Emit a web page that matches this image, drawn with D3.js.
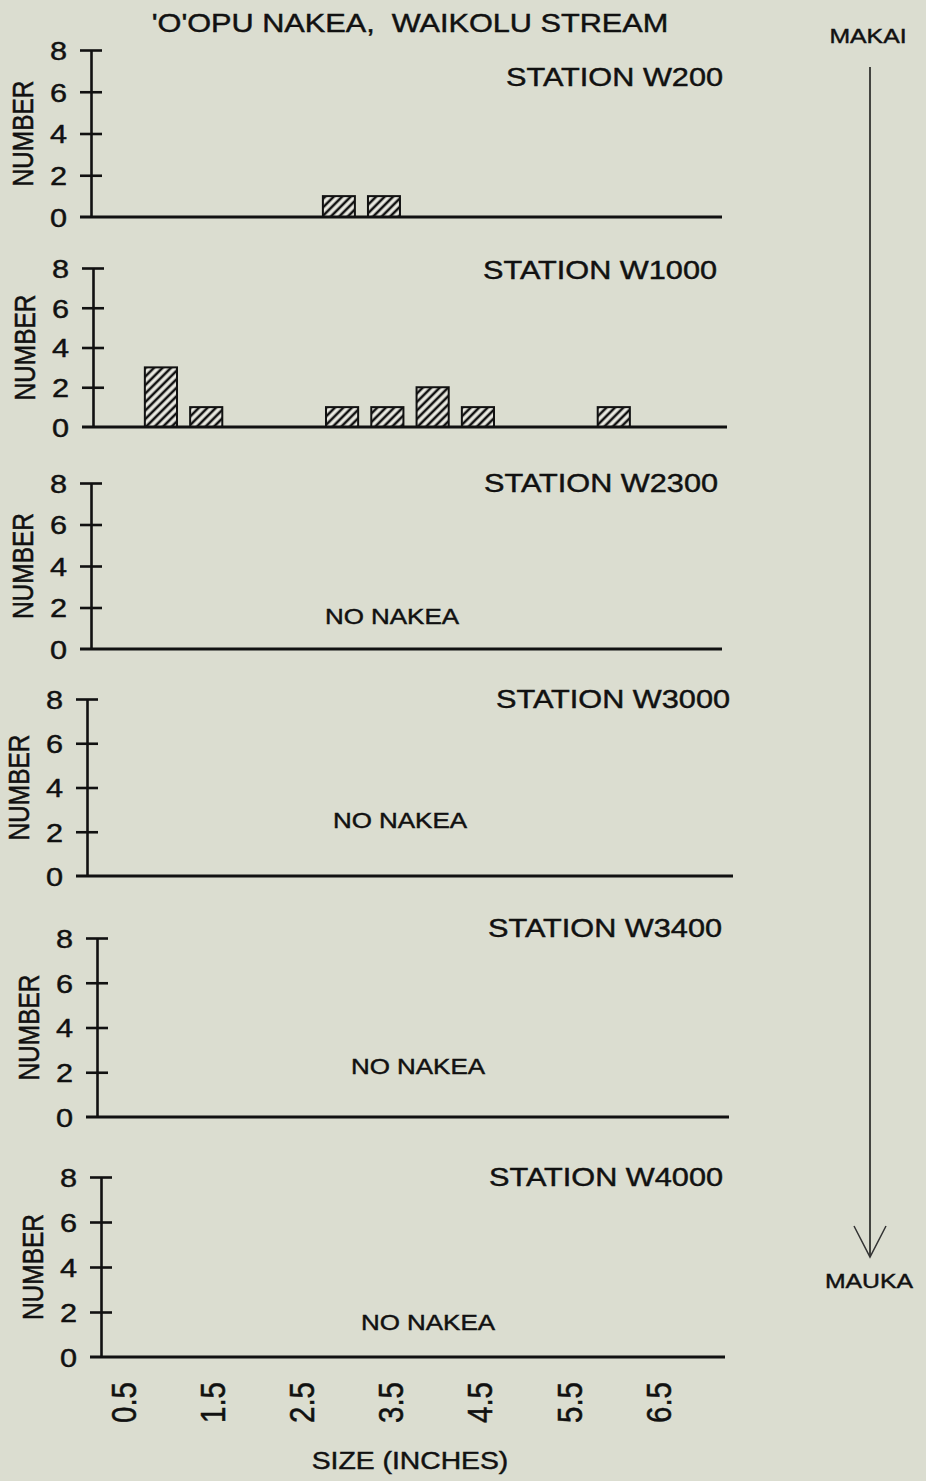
<!DOCTYPE html>
<html>
<head>
<meta charset="utf-8">
<script src="https://cdn.jsdelivr.net/npm/d3@7"></script>
<style>
  html, body { margin: 0; padding: 0; background: #dbddd0; }
  svg { display: block; }
  text { font-family: "Liberation Sans", Arial, sans-serif; fill: #111; stroke: #111; stroke-width: 0.45px; white-space: pre; }
</style>
</head>
<body>
<svg id="chart" width="926" height="1481"></svg>
<script>
// ---- data ----
const chartTitle = "'O'OPU NAKEA,  WAIKOLU STREAM";
const sizeBins = ["0.5","1.0","1.5","2.0","2.5","3.0","3.5","4.0","4.5","5.0","5.5","6.0","6.5","7.0"];
const sizeTickLabels = ["0.5","1.5","2.5","3.5","4.5","5.5","6.5"];
const yTicks = [0, 2, 4, 6, 8];
const stationNames = ["STATION W200","STATION W1000","STATION W2300","STATION W3000","STATION W3400","STATION W4000"];
const countsW200  = [0,0,0,0,0,1,1,0,0,0,0,0,0,0];
const countsW1000 = [0,3,1,0,0,1,1,2,1,0,0,1,0,0];
const countsW2300 = [0,0,0,0,0,0,0,0,0,0,0,0,0,0];
const countsW3000 = [0,0,0,0,0,0,0,0,0,0,0,0,0,0];
const countsW3400 = [0,0,0,0,0,0,0,0,0,0,0,0,0,0];
const countsW4000 = [0,0,0,0,0,0,0,0,0,0,0,0,0,0];
const stationCounts = [countsW200, countsW1000, countsW2300, countsW3000, countsW3400, countsW4000];
const emptyLabel = "NO NAKEA";
const yLabel = "NUMBER";
const xLabel = "SIZE (INCHES)";
const upstreamLabel = "MAUKA";
const downstreamLabel = "MAKAI";

// ---- layout (per panel: y-axis x, right end, y of top tick, y of zero, station label right/baseline, empty-label centre) ----
const panelLayout = [
  { left: 91,  right: 722, top: 50,   bottom: 217,  labelX: 723, labelY: 86 },
  { left: 93,  right: 727, top: 268,  bottom: 427,  labelX: 717, labelY: 279 },
  { left: 91,  right: 722, top: 483,  bottom: 649,  labelX: 718, labelY: 492,  emptyX: 392, emptyY: 624 },
  { left: 87,  right: 733, top: 699,  bottom: 876,  labelX: 730, labelY: 708,  emptyX: 400, emptyY: 828 },
  { left: 97,  right: 729, top: 938,  bottom: 1117, labelX: 722, labelY: 937,  emptyX: 418, emptyY: 1074 },
  { left: 101, right: 725, top: 1177, bottom: 1357, labelX: 723, labelY: 1186, emptyX: 428, emptyY: 1330 }
];

const SX = 1.18;          // horizontal stretch applied to lettering
const INK = "#111";

const svg = d3.select("#chart");

// diagonal hatching for the bars
const defs = svg.append("defs");
defs.append("pattern")
  .attr("id", "hatch")
  .attr("patternUnits", "userSpaceOnUse")
  .attr("width", 6).attr("height", 6)
  .attr("patternTransform", "rotate(45)")
  .call(p => {
    p.append("rect").attr("width", 6).attr("height", 6).attr("fill", "#ecece4");
    p.append("line").attr("x1", 3).attr("y1", 0).attr("x2", 3).attr("y2", 6)
      .attr("stroke", INK).attr("stroke-width", 2.6);
  });

function label(parent, x, y, str, size, anchor, rotate) {
  return parent.append("text")
    .attr("transform", `translate(${x},${y}) scale(${SX},1)` + (rotate ? ` rotate(${rotate})` : ""))
    .attr("text-anchor", anchor || "start")
    .attr("font-size", size)
    .text(str);
}

// title
label(svg, 410, 32, chartTitle, 26, "middle");

stationCounts.forEach((counts, i) => {
  const L = panelLayout[i];
  const g = svg.append("g");

  const x = d3.scaleBand()
    .domain(sizeBins)
    .range([L.left, L.right])
    .paddingInner(0.29)
    .paddingOuter(0.145);

  const y = d3.scaleLinear().domain([0, 8]).range([L.bottom, L.top]);

  // bars
  g.selectAll("rect.bar")
    .data(sizeBins.map((s, k) => ({ size: s, n: counts[k] })).filter(d => d.n > 0))
    .join("rect")
    .attr("class", "bar")
    .attr("x", d => x(d.size))
    .attr("width", x.bandwidth())
    .attr("y", d => y(d.n))
    .attr("height", d => y(0) - y(d.n))
    .attr("fill", "url(#hatch)")
    .attr("stroke", INK)
    .attr("stroke-width", 2);

  // baseline
  g.append("line")
    .attr("x1", L.left - 11).attr("x2", L.right)
    .attr("y1", y(0)).attr("y2", y(0))
    .attr("stroke", INK).attr("stroke-width", 3);

  // y axis with crossing ticks
  const yAxis = g.append("g")
    .attr("transform", `translate(${L.left},0)`)
    .call(d3.axisLeft(y).tickValues(yTicks).tickSize(11).tickSizeOuter(0).tickPadding(13).tickFormat(d3.format("d")));
  yAxis.select(".domain").attr("stroke", INK).attr("stroke-width", 2.6);
  yAxis.selectAll(".tick line")
    .attr("x2", d => d === 0 ? -11 : 11)
    .attr("x1", -11)
    .attr("stroke", INK).attr("stroke-width", 2.6);
  yAxis.selectAll(".tick text")
    .attr("x", null)
    .attr("transform", `translate(-24,0) scale(${SX},1)`)
    .attr("dy", "0.36em")
    .attr("font-size", 26)
    .attr("font-family", "Liberation Sans, Arial, sans-serif")
    .attr("fill", INK);

  // y title
  label(g, L.left - 68, (L.top + L.bottom) / 2, yLabel, 24.5, "middle", -90).attr("dy", "0.36em");

  // station name
  label(g, L.labelX, L.labelY, stationNames[i], 26, "end");

  // note for stations with no fish
  if (d3.sum(counts) === 0 && L.emptyX !== undefined) {
    label(g, L.emptyX, L.emptyY, emptyLabel, 22, "middle");
  }

  // size labels under the last panel
  if (i === stationCounts.length - 1) {
    const xAxis = g.append("g")
      .attr("transform", `translate(0,${y(0)})`)
      .call(d3.axisBottom(x).tickValues(sizeTickLabels).tickSize(0));
    xAxis.select(".domain").remove();
    xAxis.selectAll(".tick text")
      .attr("y", null)
      .attr("dy", "0.36em")
      .attr("text-anchor", "end")
      .attr("transform", `translate(0,25) scale(${SX},1) rotate(-90)`)
      .attr("font-size", 29.5)
      .attr("font-family", "Liberation Sans, Arial, sans-serif")
      .attr("fill", INK);
    label(svg, 410, 1469, xLabel, 24, "middle");
  }
});

// downstream -> upstream arrow
const arrowX = 870;
svg.append("line")
  .attr("x1", arrowX).attr("x2", arrowX)
  .attr("y1", 67).attr("y2", 1256)
  .attr("stroke", INK).attr("stroke-width", 1.5);
svg.append("path")
  .attr("d", `M${arrowX - 16},1226 L${arrowX},1257 L${arrowX + 16},1226`)
  .attr("fill", "none").attr("stroke", "#333").attr("stroke-width", 1.5);
label(svg, 868, 43, downstreamLabel, 21, "middle");
label(svg, 869, 1288, upstreamLabel, 21, "middle");
</script>
</body>
</html>
